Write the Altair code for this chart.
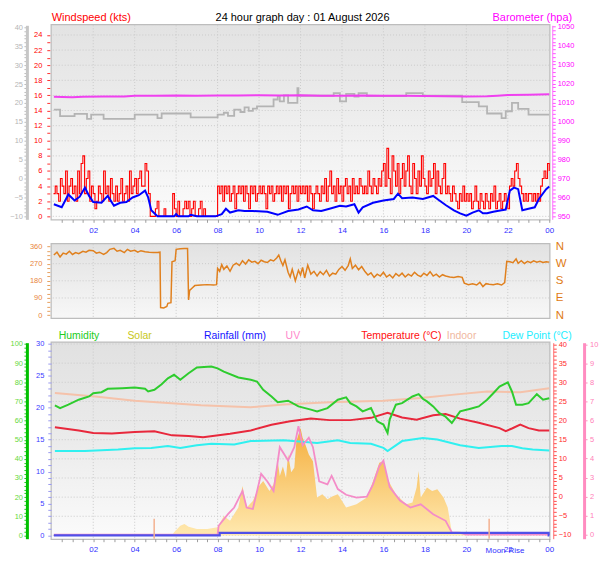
import altair as alt
import pandas as pd

FONT = "Liberation Sans"
W = 500
H_TOP, H_MID, H_BOT = 195, 74, 197

# ---------------- data (hours since midnight) ----------------
grid_hours = [2, 4, 6, 8, 10, 12, 14, 16, 18, 20, 22]
kts_grid = [0, 2, 4, 6, 8, 10, 12, 14, 16, 18, 20, 22, 24]
dir_grid = [90, 180, 270]
hum_grid = [0, 10, 20, 30, 40, 50, 60, 70, 80, 90, 100]

gust_time = [round(i / 12, 4) for i in range(1, 289)]
gust_kts = [
    3, 4, 3, 2, 5, 4, 3, 6, 2, 4, 5, 3,
    4, 2, 6, 3, 7, 8, 3, 5, 6, 2, 4, 3,
    1, 2, 4, 3, 2, 6, 3, 4, 2, 5, 3, 2,
    4, 2, 3, 5, 2, 3, 4, 2, 6, 3, 4, 5,
    3, 5, 6, 4, 4, 7, 6, 3, 0, 0, 0, 1,
    2, 0, 0, 0, 1, 0, 0, 0, 0, 3, 1, 0,
    2, 0, 0, 1, 2, 1, 2, 0, 1, 2, 0, 0,
    1, 2, 0, 1, 0, 0, 0, 0, 0, 0, 0, 4,
    3, 4, 2, 4, 3, 4, 2, 3, 4, 1, 3, 4,
    3, 4, 2, 4, 3, 1, 4, 3, 4, 2, 3, 4,
    3, 4, 3, 1, 4, 3, 4, 2, 3, 4, 3, 4,
    2, 4, 3, 4, 1, 3, 4, 3, 4, 2, 4, 3,
    4, 3, 4, 2, 4, 3, 1, 3, 4, 3, 2, 4,
    3, 5, 2, 4, 6, 3, 4, 2, 5, 3, 4, 2,
    4, 5, 3, 4, 2, 5, 3, 4, 3, 5, 4, 3,
    4, 3, 6, 4, 3, 5, 4, 3, 5, 4, 6, 7,
    4, 9, 5, 3, 8, 6, 4, 7, 3, 5, 7, 4,
    6, 8, 4, 3, 7, 5, 3, 6, 4, 8, 5, 4,
    3, 6, 4, 5, 7, 3, 6, 4, 3, 5, 7, 3,
    4, 3, 2, 4, 3, 2, 1, 3, 2, 4, 2, 3,
    2, 3, 1, 2, 4, 2, 1, 3, 2, 1, 3, 2,
    1, 3, 2, 4, 1, 2, 3, 1, 2, 3, 2, 1,
    4, 5, 4, 6, 7, 5, 4, 3, 2, 3, 2, 3,
    3, 2, 3, 2, 3, 2, 4, 5, 6, 5, 7, 6,
]

avg_time = [0.1, 0.48, 0.8, 1.1, 1.35, 1.6, 1.8, 2.0, 2.4, 2.7,
            3.0, 3.3, 3.6, 3.9, 4.2, 4.5, 4.65, 4.8, 4.95, 5.1,
            5.3, 5.9, 6.0, 6.1, 6.6, 6.7, 7.0, 7.2, 7.9, 8.2,
            8.4, 8.6, 9.0, 9.3, 9.7, 10.4, 10.9, 11.4, 11.9, 12.3,
            12.6, 13.0, 13.4, 13.9, 14.2, 14.6, 14.8, 15.0, 15.5, 16.0,
            16.5, 16.7, 16.9, 17.4, 17.9, 18.4, 18.7, 19.0, 19.4, 19.7,
            20.0, 20.3, 20.6, 20.8, 21.0, 21.3, 21.7, 21.9, 22.1, 22.3,
            22.5, 22.7, 23.0, 23.3, 23.5, 23.85, 24.0]
avg_kts = [1.6, 1.2, 2.9, 2.1, 2.6, 3.8, 2.7, 1.9, 1.8, 2.7,
           1.4, 1.8, 1.9, 2.5, 2.8, 3.4, 2.5, 0.8, 0.4, 0,
           0, 0, 0.3, 0, 0, 0.2, 0, 0, 0, 0.3,
           1.0, 0.5, 0.8, 0.7, 0.7, 0.6, 0.2, 0.7, 0.9, 1.3,
           0.8, 0.7, 1.0, 1.4, 1.3, 1.6, 0.5, 1.2, 1.8, 2.1,
           2.3, 3.0, 2.4, 2.5, 2.3, 2.7, 2.1, 1.5, 0.8, 0.4,
           0.1, 0.5, 0.8, 0.4, 0.4, 0.6, 0.8, 0.9, 3.4, 3.8,
           3.6, 0.8, 1.0, 1.2, 2.3, 3.6, 3.95]

baro_time = [0.1, 0.5, 1.0, 1.5, 2.5, 3.5, 4.0, 5.0, 6.0, 7.0,
             8.0, 9.0, 10.0, 11.0, 12.0, 13.0, 14.0, 15.0, 16.0, 17.0,
             18.0, 19.0, 20.0, 21.0, 21.5, 22.0, 23.0, 24.0]
baro_hpa = [1013.0, 1012.9, 1012.8, 1013.0, 1013.1, 1013.2, 1013.5, 1013.5, 1013.7, 1013.6,
            1013.7, 1013.7, 1013.8, 1013.7, 1013.8, 1013.6, 1013.5, 1013.7, 1013.5, 1013.6,
            1013.4, 1013.3, 1013.2, 1013.3, 1013.6, 1013.9, 1014.1, 1014.3]

grey_time = [0.1, 0.4, 1.1, 1.7, 1.9, 2.5, 4.0, 5.1, 5.3, 6.7,
             8.0, 8.3, 8.5, 8.8, 9.1, 9.3, 9.5, 9.7, 9.9, 10.7,
             10.9, 11.0, 11.2, 11.4, 11.85, 11.9, 13.6, 13.9, 14.2, 14.6,
             14.8, 15.2, 17.1, 17.9, 19.8, 20.6, 21.0, 21.7, 21.9, 22.2,
             22.5, 23.0, 24.0]
grey_val = [18.2, 16.5, 17.1, 15.8, 16.9, 15.8, 16.9, 16.0, 17.2, 16.2,
            16.9, 17.4, 16.6, 18.2, 17.6, 18.8, 17.9, 18.5, 19.1, 20.9,
            21.8, 20.4, 22.0, 20.0, 23.9, 21.9, 22.6, 20.4, 22.4, 21.7,
            22.6, 21.8, 22.6, 21.9, 20.2, 19.1, 17.2, 16.0, 17.8, 20.0,
            18.4, 16.9, 16.9]

dir_time = [0.1, 0.25, 0.4, 0.55, 0.7, 0.85, 1.0, 1.15, 1.3, 1.5,
            1.65, 1.8, 2.0, 2.15, 2.3, 2.5, 2.65, 2.8, 3.0, 3.15,
            3.3, 3.5, 3.65, 3.8, 4.0, 4.15, 4.3, 4.5, 4.7, 4.9,
            5.1, 5.22, 5.25, 5.4, 5.55, 5.6, 5.75, 5.8, 5.95, 6.0,
            6.2, 6.4, 6.55, 6.6, 6.65, 6.8, 6.9, 7.2, 7.5, 7.8,
            7.95, 8.0, 8.1, 8.2, 8.3, 8.45, 8.6, 8.75, 8.9, 9.05,
            9.2, 9.35, 9.5, 9.65, 9.8, 9.95, 10.1, 10.25, 10.4, 10.55,
            10.7, 10.85, 10.95, 11.05, 11.15, 11.25, 11.4, 11.5, 11.6, 11.75,
            11.9, 12.0, 12.1, 12.2, 12.35, 12.5, 12.65, 12.8, 12.95, 13.1,
            13.25, 13.4, 13.55, 13.7, 13.85, 14.0, 14.15, 14.3, 14.4, 14.5,
            14.65, 14.8, 14.95, 15.1, 15.25, 15.4, 15.55, 15.7, 15.85, 16.0,
            16.15, 16.3, 16.45, 16.6, 16.75, 16.9, 17.05, 17.2, 17.35, 17.5,
            17.65, 17.8, 17.95, 18.1, 18.25, 18.4, 18.55, 18.7, 18.85, 19.0,
            19.2, 19.4, 19.6, 19.8, 19.9, 20.1, 20.3, 20.5, 20.65, 20.8,
            20.95, 21.1, 21.3, 21.5, 21.7, 21.85, 21.95, 22.1, 22.25, 22.4,
            22.5, 22.65, 22.8, 22.95, 23.1, 23.25, 23.4, 23.55, 23.7, 23.85,
            24.0]
dir_deg = [315, 330, 305, 325, 320, 335, 318, 328, 322, 335,
           330, 340, 338, 325, 330, 318, 328, 345, 350, 335,
           340, 328, 345, 335, 340, 330, 338, 332, 330, 329,
           328, 330, 40, 38, 45, 62, 65, 280, 285, 345,
           348, 350, 350, 80, 130, 145, 155, 158, 160, 158,
           160, 245, 230, 265, 240, 258, 230, 262, 272, 260,
           285, 268, 290, 278, 282, 270, 288, 280, 276, 290,
           284, 300, 315, 285, 260, 290, 225, 200, 240, 180,
           235, 210, 250, 195, 262, 215, 230, 205, 228, 212,
           235, 205, 220, 215, 240, 255, 235, 260, 295, 245,
           262, 238, 255, 230, 210, 222, 198, 215, 205, 225,
           200, 212, 195, 218, 205, 220, 200, 215, 205, 225,
           210, 202, 220, 208, 228, 205, 215, 200, 212, 205,
           200, 198, 202, 198, 168, 160, 165, 158, 172, 150,
           165, 162, 160, 165, 158, 170, 282, 280, 275, 295,
           272, 285, 270, 282, 275, 285, 278, 282, 276, 280,
           278]

hum_time = [0.15, 0.4, 0.8, 1.3, 1.8, 2.0, 2.4, 2.7, 3.4, 4.0,
            4.5, 4.65, 4.95, 5.3, 5.6, 5.9, 6.2, 6.6, 7.0, 7.7,
            8.0, 8.3, 9.0, 9.6, 9.9, 10.2, 10.6, 10.9, 11.4, 11.9,
            12.5, 12.8, 13.3, 13.8, 14.2, 14.4, 14.7, 15.0, 15.4, 15.7,
            16.0, 16.2, 16.3, 16.6, 16.9, 17.4, 17.7, 17.9, 18.1, 18.4,
            18.7, 19.0, 19.3, 19.7, 20.2, 20.6, 21.0, 21.3, 21.6, 22.0,
            22.2, 22.4, 22.7, 23.0, 23.4, 23.7, 24.0]
hum_pct = [67.9, 66.5, 68.3, 70.9, 72.6, 74.3, 74.8, 76.6, 76.9, 77.3,
           76.6, 75.2, 76.1, 79.0, 82.1, 83.9, 81.3, 84.7, 87.7, 88.2,
           87.3, 85.6, 82.5, 81.3, 80.4, 76.1, 72.6, 69.6, 70.4, 67.4,
           65.7, 64.8, 66.5, 70.9, 72.1, 69.1, 67.4, 64.8, 66.5, 59.6,
           57.9, 53.5, 60.5, 68.3, 69.1, 72.6, 73.8, 71.4, 70.0, 67.4,
           63.9, 62.0, 58.7, 64.8, 66.2, 67.4, 70.9, 74.3, 77.8, 80.0,
           75.2, 68.3, 68.3, 69.1, 73.8, 70.9, 71.7]

temp_time = [0.15, 1.3, 2.0, 2.9, 4.0, 4.95, 5.8, 6.6, 7.3, 8.6,
             9.6, 10.6, 11.5, 12.5, 13.4, 14.4, 15.4, 16.2, 16.9, 17.6,
             18.4, 19.0, 19.7, 20.6, 21.6, 21.9, 22.2, 22.6, 23.0, 23.5, 24.0]
temp_c = [18.2, 17.4, 16.7, 16.6, 17.0, 17.2, 16.1, 15.9, 15.6, 16.5,
          17.4, 18.9, 19.8, 20.5, 20.1, 20.1, 20.7, 22.0, 20.8, 20.2,
          21.4, 21.7, 20.5, 19.4, 18.0, 17.2, 17.9, 18.9, 18.0, 17.4, 17.4]

indoor_time = [0.15, 2.1, 4.0, 5.6, 7.2, 9.6, 11.2, 13.4, 16.0, 17.8, 19.4, 21.0, 22.6, 24.0]
indoor_c = [27.2, 26.3, 25.2, 24.6, 24.0, 23.5, 24.2, 24.8, 25.2, 25.9, 26.8, 27.6, 27.4, 28.5]

dew_time = [0.15, 1.6, 2.4, 3.2, 4.0, 4.8, 5.6, 6.2, 7.0, 7.7,
            8.8, 9.6, 11.2, 12.8, 13.8, 14.4, 15.4, 16.0, 16.2, 16.9,
            17.9, 18.6, 19.7, 20.6, 21.7, 22.2, 22.7, 23.2, 24.0]
dew_c = [12.0, 12.0, 12.2, 12.4, 12.7, 12.8, 13.3, 12.8, 13.5, 13.9,
         13.7, 14.6, 14.8, 14.1, 14.8, 14.1, 13.9, 12.8, 12.0, 14.6,
         15.4, 15.0, 13.5, 12.8, 13.3, 13.3, 12.7, 12.4, 12.1]

uv_time = [0.1, 8.0, 8.05, 8.5, 8.8, 9.2, 9.4, 9.7, 10.1, 10.4,
           10.7, 11.0, 11.4, 11.7, 11.9, 12.1, 12.4, 12.6, 12.9, 13.3,
           13.5, 13.8, 14.2, 14.7, 15.2, 15.5, 15.8, 16.0, 16.3, 16.8,
           17.3, 17.8, 18.4, 19.0, 19.3, 19.7, 20.0, 24.0]
uv_index = [0, 0, 0.47, 1.08, 1.43, 2.3, 1.43, 1.35, 3.2, 2.8,
            2.3, 4.6, 3.9, 4.6, 5.7, 4.7, 5.1, 4.6, 2.8, 2.65,
            3.1, 2.4, 2.1, 1.95, 2.0, 2.65, 3.6, 3.9, 2.5, 1.8,
            1.43, 1.6, 1.08, 0.73, 0.12, 0.1, 0, 0]

solar_time = [0.1, 5.8, 5.9, 6.2, 6.4, 6.6, 7.0, 7.5, 8.0, 8.3,
              8.6, 9.0, 9.2, 9.4, 9.7, 10.0, 10.2, 10.5, 10.7, 10.9,
              11.0, 11.15, 11.3, 11.4, 11.55, 11.7, 11.8, 12.0, 12.1, 12.25,
              12.4, 12.6, 12.8, 13.05, 13.3, 13.55, 13.8, 14.2, 14.7, 15.2,
              15.5, 15.8, 16.0, 16.2, 16.6, 17.1, 17.4, 17.6, 17.7, 17.8,
              18.1, 18.35, 18.6, 18.9, 19.1, 19.3, 19.7, 20.0, 24.0]
solar_wm2 = [0, 0, 16, 50, 59, 45, 33, 33, 42, 102,
             76, 146, 258, 146, 180, 258, 284, 232, 267, 388,
             310, 360, 300, 423, 330, 353, 492, 561, 510, 470,
             423, 388, 198, 215, 189, 205, 215, 146, 163, 198,
             284, 380, 388, 293, 215, 163, 172, 250, 336, 198,
             250, 232, 241, 198, 146, 16, 20, 0, 0]

rain_time = [0.1, 8.1, 23.97, 24.0]
rain_mm = [0, 0.4, 0, 0]

sun_event_time = [4.94, 21.1]
sun_event_top = [2.6, 2.6]

# ---------------- scales / axes ----------------
RED_DOM = [-0.395, 25.28]
GREY_DOM = [-10.79, 40.53]
BARO_DOM = [948.43, 1050.68]
DIR_DOM = [-14.1, 372.0]
HUM_DOM = [-1.715, 100.68]
RAIN_DOM = [-0.515, 30.2]
TEMP_DOM = [-11.05, 40.44]
UV_DOM = [-0.209, 10.089]
SOLAR_DOM = [-17.2, 1006.6]


def sc(d):
    return alt.Scale(domain=d, nice=False, zero=False)


X_SCALE = sc([0, 24])
X_EXPR = ("datum.value % 2 == 0 ? ((datum.value % 24) < 10 ? '0' + (datum.value % 24) "
          ": '' + (datum.value % 24)) : ''")
X_AXIS = alt.Axis(orient="bottom", values=[i * 0.5 for i in range(1, 49)], labelExpr=X_EXPR,
                  title=None, grid=False, domain=False, tickColor="#9c9c9c", tickSize=3,
                  labelColor="#3030ff", labelFont=FONT, labelFontSize=8, labelPadding=4,
                  labelOverlap=False, labelFlush=False)


def yaxis(orient, offset, values, major, label_color, tick_color, tick=3, pad=2,
          size=7.5, domain_color=None, domain_width=1):
    kw = dict(orient=orient, offset=offset, values=values, format="d", title=None, grid=False,
              tickColor=tick_color, tickSize=tick, tickWidth=1,
              labelColor=label_color, labelFont=FONT, labelFontSize=size, labelPadding=pad,
              labelOverlap=False, labelFlush=False,
              labelExpr=f"abs(datum.value % {major}) < 0.001 ? datum.label : ''")
    if domain_color:
        kw.update(domain=True, domainColor=domain_color, domainWidth=domain_width)
    else:
        kw["domain"] = False
    return alt.Axis(**kw)


RED_AXIS = yaxis("left", 2, [i * 0.5 for i in range(49)], 2, "#ff0000", "#ff3030", tick=3, pad=5)
GREY_AXIS = yaxis("left", 25, list(range(-10, 41)), 5, "#b5b5b5", "#bdbdbd", tick=3, pad=1.5,
                  domain_color="#c6c6c6", domain_width=3)
BARO_AXIS = yaxis("right", 3, list(range(950, 1051, 2)), 10, "#ff00ff", "#ff50ff", tick=3, pad=2,
                  domain_color="#ff70ff")
DIR_AXIS_L = yaxis("left", 2, [i * 22.5 for i in range(17)], 90, "#e8843a", "#e8a060", tick=3, pad=5)
DIR_AXIS_R = alt.Axis(orient="right", offset=0, values=[0, 90, 180, 270, 360],
                      labelExpr="datum.value == 90 ? 'E' : (datum.value == 180 ? 'S' : "
                                "(datum.value == 270 ? 'W' : 'N'))",
                      ticks=False, domain=False, grid=False, title=None, labelColor="#e07b14",
                      labelFont=FONT, labelFontSize=11.5, labelPadding=6, labelOverlap=False,
                      labelFlush=False)
HUM_AXIS = yaxis("left", 25, list(range(0, 101, 2)), 10, "#66d93a", "#22cc22", tick=3, pad=1.5,
                 domain_color="#00c000", domain_width=3)
RAIN_AXIS = yaxis("left", 0, list(range(0, 31)), 5, "#3a3aff", "#9a9aee", tick=4, pad=4)
TEMP_AXIS = yaxis("right", 4, list(range(-10, 41)), 5, "#ff2a2a", "#ff4a4a", tick=3, pad=2,
                  domain_color="#ff6a6a")
UV_AXIS = yaxis("right", 35, [i * 0.5 for i in range(21)], 1, "#ff80b8", "#ff90c0", tick=3, pad=2.5,
                domain_color="#ff8cc0", domain_width=3)

ONE = alt.Data(values=[{"a": 1}])


def xenc(show=True):
    return alt.X("h:Q", scale=X_SCALE, axis=X_AXIS if show else None)


def bg(h, stops):
    grad = alt.LinearGradient(gradient="linear",
                              stops=[alt.GradientStop(color=c, offset=o) for o, c in stops],
                              x1=0, x2=0, y1=0, y2=1)
    return alt.Chart(ONE).mark_rect(fill=grad, strokeWidth=0).encode(
        x=alt.value(0), x2=alt.value(W), y=alt.value(0), y2=alt.value(h))


def vgrid(show=True):
    return alt.Chart(pd.DataFrame({"h": grid_hours})).mark_rule(
        color="#cbcbcb", strokeDash=[1, 2], strokeWidth=1).encode(x=xenc(show))


def hgrid(vals, dom, axis):
    return alt.Chart(pd.DataFrame({"v": vals})).mark_rule(
        color="#cbcbcb", strokeDash=[1, 2], strokeWidth=1).encode(
        y=alt.Y("v:Q", scale=sc(dom), axis=axis))


def line(t, v, dom, color, width, axis=None, interp="linear", show_x=True):
    return alt.Chart(pd.DataFrame({"h": t, "v": v})).mark_line(
        color=color, strokeWidth=width, interpolate=interp).encode(
        x=xenc(show_x), y=alt.Y("v:Q", scale=sc(dom), axis=axis))


def txt(s, x, y, color, size=11, align="left"):
    return alt.Chart(ONE).mark_text(text=s, align=align, baseline="alphabetic", color=color,
                                    font=FONT, fontSize=size).encode(x=alt.value(x), y=alt.value(y))


# ---------------- top panel: wind + barometer ----------------
marker = alt.Chart(ONE).mark_rect(fill="white", strokeWidth=0).encode(
    x=alt.value(-42), x2=alt.value(-41), y=alt.value(-14), y2=alt.value(-13))

top = alt.layer(
    bg(H_TOP, [(0, "#e3e3e3"), (0.3, "#e9e9e9"), (1, "#fbfbfb")]),
    vgrid(),
    hgrid(kts_grid, RED_DOM, RED_AXIS),
    line(grey_time, grey_val, GREY_DOM, "#b4b4b4", 1.8, GREY_AXIS, "step-after"),
    line(baro_time, baro_hpa, BARO_DOM, "#f040f0", 2, BARO_AXIS),
    line(gust_time, gust_kts, RED_DOM, "#ff0000", 1.1, None, "step-after"),
    line(avg_time, avg_kts, RED_DOM, "#0000ff", 2),
    txt("24 hour graph day : 01 August 2026", 252, -4, "#000000", 11, "center"),
    txt("Windspeed (kts)", 0, -4, "#ff0000", 11),
    txt("Barometer (hpa)", 523, -4, "#ff00ff", 11, "right"),
    marker,
).resolve_scale(y="independent").properties(width=W, height=H_TOP)

# ---------------- middle panel: wind direction ----------------
mid = alt.layer(
    bg(H_MID, [(0, "#e2e2e2"), (1, "#f7f7f7")]),
    vgrid(False),
    hgrid(dir_grid, DIR_DOM, DIR_AXIS_L),
    line(dir_time, dir_deg, DIR_DOM, "#e0801e", 1.5, DIR_AXIS_R, show_x=False),
).resolve_scale(y="independent").properties(width=W, height=H_MID)

# ---------------- bottom panel ----------------
solar_grad = alt.LinearGradient(gradient="linear",
                                stops=[alt.GradientStop(color="#f4ae3c", offset=0),
                                       alt.GradientStop(color="#ffe9b0", offset=1)],
                                x1=0, x2=0, y1=0, y2=1)
solar = alt.Chart(pd.DataFrame({"h": solar_time, "v": solar_wm2})).mark_area(
    fill=solar_grad, opacity=1).encode(
    x=xenc(), y=alt.Y("v:Q", scale=sc(SOLAR_DOM), axis=None), y2=alt.value(H_BOT))

sun_rules = alt.Chart(pd.DataFrame({"h": sun_event_time, "top": sun_event_top})).mark_rule(
    color="#f3b190", strokeWidth=1.5).encode(
    x=xenc(), y=alt.Y("top:Q", scale=sc(RAIN_DOM), axis=None), y2=alt.value(H_BOT))

legend_y = -4
LEG = 10.5
bot = alt.layer(
    bg(H_BOT, [(0, "#e1e1e1"), (0.5, "#ebebeb"), (1, "#fbfbfb")]),
    vgrid(),
    hgrid(hum_grid, HUM_DOM, HUM_AXIS),
    solar,
    line(indoor_time, indoor_c, TEMP_DOM, "#f5c2aa", 2),
    line(dew_time, dew_c, TEMP_DOM, "#30f0f0", 2),
    line(temp_time, temp_c, TEMP_DOM, "#e8283c", 2, TEMP_AXIS),
    line(hum_time, hum_pct, HUM_DOM, "#2ecc2e", 2),
    line(uv_time, uv_index, UV_DOM, "#f48cc8", 1.8, UV_AXIS),
    line(rain_time, rain_mm, RAIN_DOM, "#5050e8", 2.2, RAIN_AXIS, "step-after"),
    sun_rules,
    txt("Humidity", 7, legend_y, "#22cc22", LEG),
    txt("Solar", 76, legend_y, "#c8c820", LEG),
    txt("Rainfall (mm)", 153, legend_y, "#1515ff", LEG),
    txt("UV", 235, legend_y, "#ff88cc", LEG),
    txt("Temperature (°C)", 311, legend_y, "#ff1010", LEG),
    txt("Indoor", 397, legend_y, "#f0b8a0", LEG),
    txt("Dew Point (°C)", 453, legend_y, "#22eeff", LEG),
    txt("Moon", 456, H_BOT + 14, "#3030ff", 8, "right"),
    txt("Rise", 459, H_BOT + 14, "#3030ff", 8),
).resolve_scale(y="independent").properties(width=W, height=H_BOT)

chart = alt.vconcat(top, mid, bot, spacing=25, bounds="flush", padding=0).configure_view(
    stroke="#bdbdbd", strokeWidth=2.5)

chart.save("out.html", embed_options={"renderer": "svg", "actions": False})
